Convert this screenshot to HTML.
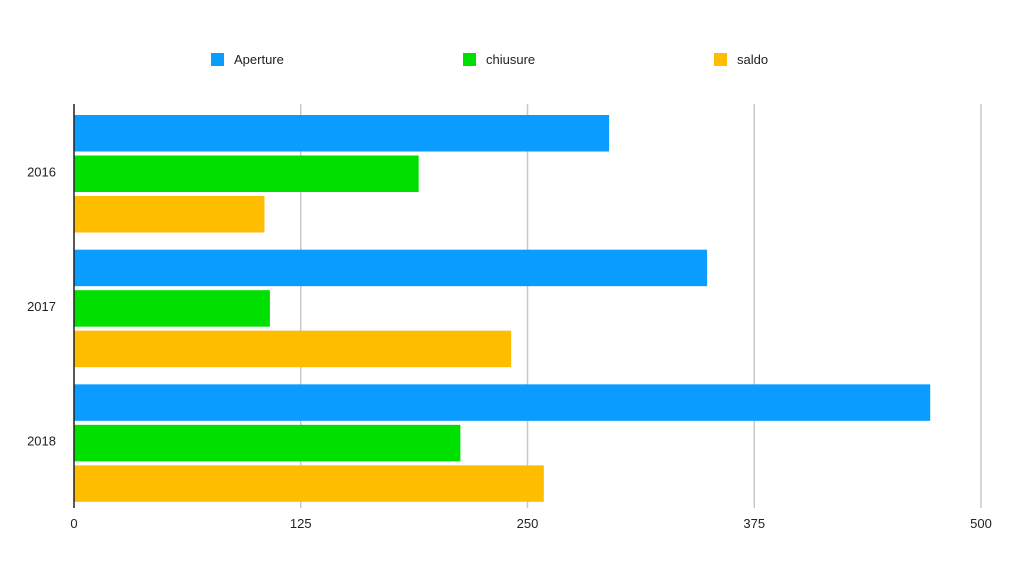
<!DOCTYPE html>
<html><head><meta charset="utf-8"><style>
body{margin:0;background:#fff;font-family:"Liberation Sans",sans-serif}
</style></head><body>
<svg id="c" width="1024" height="571"></svg>
<script>
const categories=["2016","2017","2018"];
const seriesNames=["Aperture","chiusure","saldo"];
const aperture=[295,349,472];
const chiusure=[190,108,213];
const saldo=[105,241,259];
const ticks=[0,125,250,375,500];
const colors=["#0a9cff","#00e000","#ffbd00"];
const svg=document.getElementById('c');
const NS="http://www.w3.org/2000/svg";
function mk(t,a,p){const e=document.createElementNS(NS,t);for(const k in a)e.setAttribute(k,a[k]);(p||svg).appendChild(e);return e;}
const x0=74,x1=981,yTop=104,yBot=508,max=500;
const xs=v=>x0+(x1-x0)*v/max;
const groupH=(yBot-yTop)/categories.length;
// grid
ticks.forEach(t=>{
  if(t>0){const g=mk('line',{x1:xs(t),x2:xs(t),y1:yTop,y2:yBot,stroke:'#c8c8c8','stroke-width':1.5});
  
  }
  const l=mk('text',{x:xs(t),y:528,'text-anchor':'middle','font-size':13,fill:'#222'});
  l.textContent=t;
  
  
});
const data=[aperture,chiusure,saldo];
categories.forEach((c,i)=>{
  const gy=yTop+i*groupH;
  data.forEach((s,j)=>{
    const y=gy+11+j*40.5;
    const r=mk('rect',{x:x0,y:y,width:xs(s[i])-x0,height:36.5,fill:colors[j]});
    
    
  });
  const t=mk('text',{x:56,y:gy+groupH/2+5,'text-anchor':'end','font-size':13,fill:'#222'});
  t.textContent=c;
  
  
});
const ax=mk('line',{x1:x0,x2:x0,y1:yTop,y2:yBot,stroke:'#222','stroke-width':1.5});


const lx=[211,463,714];
seriesNames.forEach((n,j)=>{
  const g=mk('g',{});
  
  
  mk('rect',{x:lx[j],y:53,width:13,height:13,fill:colors[j]},g);
  const t=mk('text',{x:lx[j]+23,y:64,'font-size':13,fill:'#222'},g);
  t.textContent=n;
});
</script>
</body></html>
